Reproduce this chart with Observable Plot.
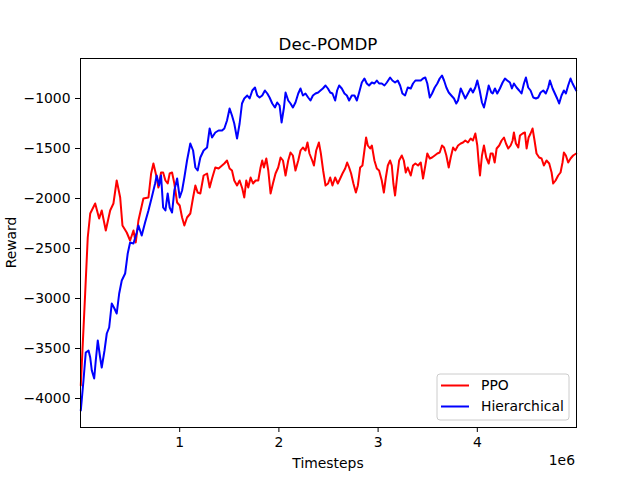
<!DOCTYPE html>
<html>
<head>
<meta charset="utf-8">
<script src="https://cdn.jsdelivr.net/npm/d3@7"></script>
<script src="https://cdn.jsdelivr.net/npm/@observablehq/plot@0.6"></script>
<style>
  html, body { margin: 0; padding: 0; background: white; }
  #chart svg text { font-family: "DejaVu Sans", sans-serif; font-size: 13.9px; fill: black; }
</style>
</head>
<body>
<div id="chart"></div>
<script>
// ---- data (timesteps in millions, reward) ----
const title = "Dec-POMDP";
const xLabel = "Timesteps";
const yLabel = "Reward";
const xExponent = "1e6";
const seriesNames = ["PPO", "Hierarchical"];
const seriesColors = ["#ff0000", "#0000ff"];
const xTicks = [1e6, 2e6, 3e6, 4e6];
const yTicks = [-4000, -3500, -3000, -2500, -2000, -1500, -1000];

const ppo = [
[0.003,-3870],[0.047,-2950],[0.073,-2390],[0.098,-2150],[0.148,-2050],[0.188,-2200],[0.214,-2120],[0.255,-2320],
[0.299,-2120],[0.332,-2050],[0.365,-1820],[0.400,-1990],[0.423,-2270],[0.466,-2340],[0.500,-2420],[0.534,-2320],
[0.557,-2440],[0.584,-2220],[0.634,-2000],[0.685,-1990],[0.712,-1750],[0.735,-1650],[0.768,-1790],[0.785,-1890],
[0.812,-1740],[0.833,-1740],[0.856,-1820],[0.879,-1850],[0.899,-1750],[0.923,-1740],[0.946,-1850],[0.974,-2040],
[1.000,-2070],[1.024,-2190],[1.047,-2270],[1.074,-2190],[1.107,-2150],[1.135,-1990],[1.158,-1870],[1.181,-1940],
[1.208,-1950],[1.241,-1770],[1.276,-1750],[1.302,-1890],[1.326,-1800],[1.359,-1690],[1.392,-1700],[1.427,-1670],
[1.450,-1650],[1.477,-1620],[1.503,-1700],[1.527,-1720],[1.550,-1820],[1.578,-1870],[1.604,-1820],[1.631,-1900],
[1.651,-1990],[1.671,-1820],[1.691,-1890],[1.715,-1790],[1.739,-1850],[1.765,-1820],[1.792,-1820],[1.815,-1690],
[1.832,-1620],[1.849,-1690],[1.873,-1600],[1.893,-1720],[1.916,-1950],[1.940,-1850],[1.966,-1750],[1.993,-1690],
[2.017,-1590],[2.041,-1620],[2.067,-1770],[2.094,-1620],[2.117,-1540],[2.141,-1570],[2.167,-1720],[2.195,-1620],
[2.218,-1520],[2.242,-1490],[2.268,-1520],[2.288,-1440],[2.308,-1550],[2.336,-1620],[2.353,-1670],[2.376,-1520],
[2.403,-1440],[2.423,-1550],[2.446,-1720],[2.470,-1870],[2.496,-1850],[2.517,-1790],[2.540,-1870],[2.567,-1790],
[2.594,-1850],[2.618,-1800],[2.641,-1750],[2.668,-1700],[2.688,-1640],[2.708,-1690],[2.728,-1750],[2.751,-1850],
[2.776,-1940],[2.796,-1870],[2.819,-1690],[2.842,-1670],[2.862,-1520],[2.879,-1390],[2.896,-1470],[2.920,-1500],
[2.937,-1470],[2.963,-1620],[2.987,-1700],[3.010,-1720],[3.037,-1820],[3.058,-1940],[3.078,-1790],[3.098,-1670],
[3.121,-1620],[3.138,-1670],[3.154,-1850],[3.171,-1970],[3.191,-1790],[3.212,-1620],[3.239,-1570],[3.259,-1620],
[3.279,-1740],[3.299,-1690],[3.329,-1770],[3.352,-1670],[3.376,-1650],[3.403,-1670],[3.430,-1640],[3.453,-1800],
[3.476,-1670],[3.496,-1550],[3.521,-1600],[3.544,-1590],[3.571,-1570],[3.597,-1550],[3.621,-1540],[3.644,-1470],
[3.665,-1490],[3.688,-1570],[3.712,-1690],[3.732,-1590],[3.756,-1490],[3.778,-1520],[3.806,-1470],[3.833,-1450],
[3.856,-1440],[3.879,-1420],[3.906,-1440],[3.933,-1400],[3.956,-1420],[3.980,-1350],[4.000,-1470],[4.014,-1640],
[4.027,-1770],[4.047,-1570],[4.067,-1470],[4.090,-1590],[4.115,-1650],[4.135,-1550],[4.155,-1550],[4.175,-1640],
[4.195,-1500],[4.221,-1470],[4.245,-1420],[4.269,-1390],[4.289,-1450],[4.312,-1500],[4.336,-1470],[4.356,-1420],
[4.369,-1340],[4.389,-1450],[4.413,-1490],[4.430,-1370],[4.457,-1350],[4.480,-1340],[4.497,-1500],[4.517,-1390],
[4.537,-1350],[4.557,-1300],[4.577,-1420],[4.597,-1550],[4.624,-1590],[4.648,-1600],[4.671,-1670],[4.698,-1620],
[4.725,-1650],[4.749,-1740],[4.765,-1850],[4.789,-1820],[4.815,-1770],[4.839,-1740],[4.859,-1640],[4.873,-1540],
[4.893,-1570],[4.916,-1640],[4.940,-1600],[4.966,-1570],[4.997,-1550]
];

const hierarchical = [
[0.003,-4120],[0.030,-3820],[0.053,-3540],[0.081,-3520],[0.098,-3590],[0.114,-3720],[0.138,-3800],[0.154,-3620],
[0.174,-3420],[0.198,-3590],[0.214,-3690],[0.242,-3520],[0.265,-3350],[0.289,-3290],[0.315,-3050],[0.342,-3100],
[0.365,-3150],[0.390,-2950],[0.416,-2820],[0.450,-2750],[0.476,-2550],[0.500,-2440],[0.534,-2450],[0.567,-2340],
[0.584,-2270],[0.617,-2370],[0.651,-2240],[0.685,-2120],[0.718,-1990],[0.752,-1850],[0.768,-1770],[0.792,-1870],
[0.812,-1770],[0.833,-2090],[0.856,-2120],[0.879,-1950],[0.899,-2090],[0.923,-2140],[0.946,-1920],[0.974,-1800],
[1.000,-1990],[1.024,-1920],[1.047,-1790],[1.074,-1620],[1.107,-1450],[1.135,-1520],[1.158,-1690],[1.181,-1720],
[1.208,-1590],[1.241,-1520],[1.276,-1490],[1.302,-1300],[1.326,-1390],[1.359,-1340],[1.392,-1320],[1.427,-1320],
[1.450,-1300],[1.477,-1220],[1.503,-1100],[1.527,-1170],[1.550,-1250],[1.578,-1400],[1.604,-1250],[1.628,-1050],
[1.651,-1000],[1.681,-970],[1.705,-1000],[1.732,-920],[1.759,-890],[1.782,-970],[1.805,-990],[1.832,-970],
[1.859,-920],[1.883,-950],[1.906,-990],[1.933,-1050],[1.960,-1090],[1.983,-1040],[2.007,-1070],[2.027,-1240],
[2.051,-1090],[2.067,-940],[2.094,-1020],[2.117,-1050],[2.141,-1090],[2.167,-1040],[2.195,-950],[2.218,-900],
[2.242,-970],[2.268,-950],[2.295,-990],[2.318,-1020],[2.343,-970],[2.369,-950],[2.396,-940],[2.419,-920],
[2.443,-900],[2.470,-870],[2.494,-900],[2.517,-940],[2.540,-950],[2.567,-1020],[2.587,-920],[2.607,-870],
[2.634,-900],[2.661,-950],[2.685,-970],[2.708,-1020],[2.735,-970],[2.762,-970],[2.786,-1020],[2.809,-940],
[2.836,-840],[2.862,-800],[2.886,-850],[2.909,-870],[2.937,-840],[2.963,-850],[2.987,-820],[3.010,-850],
[3.037,-850],[3.064,-870],[3.088,-840],[3.121,-790],[3.144,-820],[3.171,-840],[3.198,-820],[3.222,-870],
[3.245,-950],[3.272,-970],[3.299,-890],[3.329,-900],[3.352,-850],[3.376,-820],[3.403,-820],[3.430,-820],
[3.453,-800],[3.476,-790],[3.496,-850],[3.521,-990],[3.544,-950],[3.571,-890],[3.597,-850],[3.621,-800],
[3.644,-770],[3.665,-820],[3.688,-890],[3.712,-940],[3.738,-970],[3.765,-1000],[3.788,-1050],[3.806,-1020],
[3.833,-900],[3.856,-950],[3.879,-1000],[3.906,-950],[3.933,-900],[3.956,-940],[3.980,-890],[4.000,-820],
[4.024,-920],[4.047,-1040],[4.067,-1090],[4.090,-990],[4.115,-870],[4.141,-940],[4.155,-950],[4.178,-900],
[4.201,-950],[4.228,-900],[4.255,-840],[4.279,-800],[4.302,-820],[4.329,-840],[4.349,-900],[4.369,-850],
[4.396,-890],[4.422,-920],[4.446,-950],[4.470,-850],[4.490,-790],[4.513,-890],[4.537,-920],[4.564,-990],
[4.591,-1000],[4.614,-990],[4.638,-940],[4.665,-920],[4.691,-950],[4.715,-890],[4.732,-820],[4.759,-900],
[4.782,-950],[4.805,-1000],[4.825,-1050],[4.849,-970],[4.873,-920],[4.893,-950],[4.916,-870],[4.940,-800],
[4.960,-850],[4.997,-920]
];

// ---- build table ----
const rows = [];
[ppo, hierarchical].forEach((s, i) => {
  s.forEach(([t, r]) => rows.push({series: seriesNames[i], t: t * 1e6, r}));
});

const W = 640, H = 480, mL = 80, mR = 64, mT = 58, mB = 53;
const minus = d => (d < 0 ? "\u2212" + Math.abs(d) : String(d));

const chart = Plot.plot({
  width: W,
  height: H,
  marginLeft: mL,
  marginRight: mR,
  marginTop: mT,
  marginBottom: mB,
  style: {background: "white", color: "black"},
  x: {domain: [0, 5e6]},
  y: {domain: [-4290, -600]},
  color: {domain: seriesNames, range: seriesColors},
  marks: [
    Plot.line(rows, {x: "t", y: "r", z: "series", stroke: "series", strokeWidth: 2}),
    Plot.frame({stroke: "black", strokeWidth: 1}),
    Plot.axisX({ticks: xTicks, tickFormat: d => String(d / 1e6), tickSize: 5, tickPadding: 5, label: null}),
    Plot.axisY({ticks: yTicks, tickFormat: minus, tickSize: 5, tickPadding: 5, label: null})
  ]
});

const svg = d3.select(chart);
const cx = mL + (W - mL - mR) / 2;
const cy = mT + (H - mT - mB) / 2;

// title and axis labels
svg.append("text").attr("x", cx).attr("y", 49.5).attr("text-anchor", "middle")
  .style("font-size", "16.7px").text(title);
svg.append("text").attr("x", cx).attr("y", 468).attr("text-anchor", "middle").text(xLabel);
svg.append("text").attr("x", W - mR - 1).attr("y", 465).attr("text-anchor", "end").text(xExponent);
svg.append("text").attr("transform", `translate(16,${cy}) rotate(-90)`).attr("text-anchor", "middle").text(yLabel);

// ---- legend inside the frame (lower right) ----
const frameRight = W - mR, frameBottom = H - mB;
const boxW = 132, boxH = 46;
const lg = svg.append("g").attr("transform", `translate(${frameRight - 7 - boxW},${frameBottom - 7 - boxH})`);
lg.append("rect").attr("width", boxW).attr("height", boxH).attr("rx", 3)
  .attr("fill", "white").attr("fill-opacity", 0.8).attr("stroke", "#cccccc").attr("stroke-width", 1);
seriesNames.forEach((name, i) => {
  const yy = 11.5 + i * 21;
  lg.append("line").attr("x1", 4).attr("x2", 32).attr("y1", yy).attr("y2", yy)
    .attr("stroke", seriesColors[i]).attr("stroke-width", 2);
  lg.append("text").attr("x", 44).attr("y", yy).attr("dy", "0.35em")
    .attr("text-anchor", "start").text(name);
});

document.getElementById("chart").appendChild(chart);
</script>
</body>
</html>
